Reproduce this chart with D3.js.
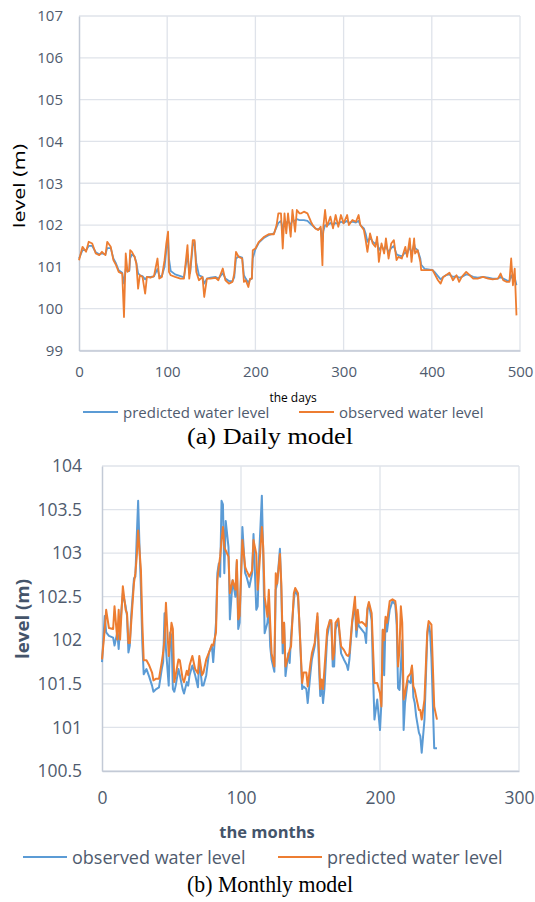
<!DOCTYPE html>
<html>
<head>
<meta charset="utf-8">
<script src="https://cdn.jsdelivr.net/npm/d3@7"></script>
<style>
  body { margin: 0; background: #fff; }
  svg { display: block; }
  .tick text { font-family: "Open Sans", sans-serif; fill: #4f5b6e; }
</style>
</head>
<body>
<script>
// (a) daily model
var days = [0,4,8,11,15,19,23,26,30,32,
  36,39,42,45,49,51,53,55,57,58,
  60,63,65,67,69,72,75,77,81,85,
  89,91,94,97,99,101,102,104,109,115,
  119,123,125,126,129,131,133,136,140,142,
  145,149,155,158,163,166,170,174,176,178,
  181,185,187,189,192,194,196,197,200,204,
  210,215,221,224,226,229,231,233,235,237,
  240,242,245,247,250,252,255,259,263,265,
  268,271,274,276,277,279,281,285,288,291,
  294,297,300,304,306,310,314,317,319,323,
  325,327,330,333,336,338,340,343,346,348,
  351,354,357,360,362,366,370,372,375,377,
  380,381,384,387,388,392,396,401,403,407,
  410,413,416,420,424,428,431,434,439,443,
  447,452,458,464,469,475,478,481,485,488,
  490,492,494,496];
var dailyObserved = [101.16,101.48,101.36,101.6,101.56,101.32,101.28,101.36,101.28,101.6,
  101.48,101.16,101.04,100.88,100.84,99.8,101.32,100.88,100.92,101.4,
  101.36,101.24,101.08,100.48,100.8,100.76,100.36,100.76,100.74,100.78,
  101.2,100.72,100.76,101.16,101.56,101.84,100.88,100.8,100.76,100.72,
  100.72,101.52,100.72,100.88,101.64,101.64,100.88,100.68,100.76,100.28,
  100.72,100.72,100.74,100.68,100.96,100.68,100.6,100.64,100.84,101.36,
  101.24,101.2,100.64,100.68,100.52,100.72,100.72,101.4,101.44,101.6,
  101.72,101.78,101.78,102.0,102.28,102.28,101.44,102.28,101.8,102.28,
  101.72,102.36,101.84,102.36,102.28,102.28,102.32,102.28,102.08,102.0,
  101.92,101.88,101.96,101.04,101.96,102.36,101.96,102.2,101.92,102.24,
  101.96,102.24,102.04,102.24,102.0,102.12,102.08,102.24,102.0,101.88,
  101.64,101.36,101.8,101.56,101.48,101.72,101.12,101.56,101.32,101.68,
  101.2,101.56,101.64,101.16,101.24,101.2,101.48,101.24,101.68,101.12,
  101.68,101.32,101.4,101.12,100.92,100.92,100.92,100.92,100.84,100.68,
  100.6,100.76,100.8,100.86,100.68,100.8,100.64,100.76,100.88,100.8,
  100.72,100.72,100.76,100.72,100.7,100.72,100.84,100.68,100.64,100.64,
  101.2,100.56,100.96,99.84];
var dailyPredicted = [101.2,101.4,101.4,101.5,101.5,101.35,101.3,101.32,101.3,101.45,
  101.45,101.2,101.08,100.92,100.86,100.6,100.95,100.9,100.9,101.2,
  101.3,101.25,101.1,100.85,100.8,100.78,100.7,100.76,100.76,100.77,
  100.95,100.78,100.78,101.0,101.4,101.7,101.2,100.9,100.82,100.78,
  100.75,101.3,100.9,100.85,101.5,101.6,101.1,100.8,100.76,100.6,
  100.72,100.74,100.76,100.72,100.85,100.72,100.66,100.66,100.75,101.2,
  101.25,101.22,100.8,100.72,100.62,100.7,100.72,101.2,101.42,101.58,
  101.7,101.76,101.8,101.95,102.05,102.1,101.9,102.1,102.05,102.1,
  102.0,102.12,102.1,102.14,102.12,102.12,102.12,102.1,102.02,101.98,
  101.92,101.9,101.92,101.6,101.85,102.0,101.98,102.05,102.0,102.05,
  102.02,102.08,102.05,102.1,102.05,102.08,102.06,102.1,102.0,101.92,
  101.8,101.6,101.7,101.6,101.55,101.6,101.4,101.5,101.4,101.5,
  101.35,101.45,101.5,101.3,101.28,101.25,101.35,101.3,101.5,101.3,
  101.55,101.45,101.4,101.2,101.05,100.95,100.94,100.92,100.88,100.78,
  100.7,100.76,100.8,100.82,100.76,100.78,100.74,100.76,100.82,100.8,
  100.76,100.74,100.76,100.74,100.72,100.72,100.76,100.72,100.68,100.66,
  100.8,100.7,100.75,100.56];
var dailyYTicks = [99,100,101,102,103,104,105,106,107];
var dailyXTicks = [0,100,200,300,400,500];

// (b) monthly model
var months = [0,2,3,5,8,9,11,12,13,15,
  17,18,19,20,21,23,24,25,26,27,
  28,29,30,32,34,36,37,39,41,43,
  44,45,46,48,49,50,51,52,53,55,
  56,58,59,61,62,63,65,67,69,70,
  72,73,75,77,79,80,82,83,84,85,
  86,87,88,89,91,92,94,96,97,98,
  99,101,103,104,106,108,109,111,112,113,
  115,116,117,119,120,121,122,124,125,126,
  128,129,130,131,132,134,135,136,138,139,
  141,142,144,145,147,148,150,151,153,155,
  156,157,158,159,160,162,164,165,166,167,
  168,170,171,172,174,176,177,178,180,182,
  183,184,185,187,189,190,191,192,194,195,
  196,198,200,201,202,203,204,205,207,209,
  211,212,213,214,215,216,217,218,220,222,
  223,224,225,226,228,229,230,232,234,235,
  236,237,239,241];
var monthlyObserved = [101.75,102.28,102.09,102.05,102.03,101.94,102.09,101.9,102.16,102.54,
  102.39,102.28,101.86,101.94,102.28,102.71,102.73,103.19,103.6,103.07,
  102.58,101.97,101.61,101.67,101.58,101.48,101.41,101.44,101.46,101.67,
  101.75,102.31,101.9,101.48,102.09,102.05,101.44,101.41,101.48,101.67,
  101.6,101.44,101.39,101.52,101.48,101.6,101.71,101.6,101.46,101.78,
  101.48,101.48,101.6,101.86,101.94,101.75,102.2,102.77,102.88,102.73,
  103.6,103.56,102.77,103.37,103.07,102.24,102.69,102.5,102.9,102.13,
  102.2,103.3,102.77,102.73,102.61,102.77,103.22,102.35,102.39,102.96,
  103.66,102.96,102.08,102.2,102.39,101.93,101.78,101.64,102.58,102.65,
  103.05,102.58,101.85,102.2,101.59,101.85,101.74,102.04,102.46,102.58,
  102.5,102.2,101.44,101.47,101.44,101.28,101.63,101.78,101.93,102.27,
  101.74,101.36,101.51,101.28,101.44,102.04,102.23,102.2,101.7,101.7,
  102.12,102.23,102.04,101.85,101.78,101.72,101.66,101.78,102.2,102.42,
  102.04,102.2,102.16,102.12,102.08,101.97,102.35,102.42,102.23,101.6,
  101.09,101.32,100.97,101.28,102.12,101.6,102.23,102.1,102.35,102.45,
  102.41,102.18,101.45,101.43,101.7,102.0,100.97,101.28,101.54,101.51,
  101.7,101.35,101.28,101.13,100.94,100.9,100.71,101.09,102.05,102.18,
  102.1,101.8,100.76,100.76];
var monthlyPredicted = [101.78,102.13,102.35,102.14,102.13,102.39,102.01,102.35,102.01,102.62,
  102.35,102.31,101.97,101.97,102.2,102.66,102.77,102.96,103.26,103.03,
  102.81,102.2,101.77,101.77,101.71,101.63,101.54,101.56,101.56,101.75,
  101.86,102.01,102.43,101.82,102.01,102.2,102.13,101.52,101.6,101.78,
  101.77,101.56,101.52,101.65,101.6,101.71,101.82,101.67,101.62,101.82,
  101.6,101.63,101.78,101.86,101.95,101.94,102.09,102.69,102.84,102.96,
  103.15,103.3,103.07,103.03,102.96,102.54,102.69,102.58,102.92,102.24,
  102.28,103.15,102.84,102.8,102.73,102.8,103.15,102.99,102.58,102.8,
  103.3,103.07,102.5,102.27,102.58,102.2,101.85,101.7,102.77,102.65,
  102.99,102.65,101.97,102.2,101.7,101.82,101.89,101.93,102.54,102.6,
  102.54,102.2,101.51,101.63,101.63,101.47,101.74,101.85,101.97,102.31,
  101.89,101.44,101.55,101.44,101.66,102.12,102.23,102.23,101.78,101.85,
  102.2,102.25,102.08,101.93,101.89,101.83,101.82,101.85,102.23,102.5,
  102.12,102.35,102.2,102.21,102.18,102.16,102.37,102.44,102.31,101.9,
  101.51,101.51,101.39,101.24,102.12,102.0,102.27,102.2,102.45,102.47,
  102.45,102.3,101.7,101.89,102.39,102.2,101.32,101.39,101.58,101.62,
  101.71,101.47,101.43,101.35,101.2,101.2,101.09,101.32,102.1,102.22,
  102.2,102.18,101.24,101.09];
var monthlyYTicks = [100.5,101,101.5,102,102.5,103,103.5,104];
var monthlyXTicks = [0,100,200,300];

var blue = "#5b9bd5";
var orange = "#ed7d31";
var gridColor = "#dfe3ea";
var axisColor = "#c3cad6";
var textColor = "#4f5b6e";

var svg = d3.select("body").append("svg")
    .attr("width", 535)
    .attr("height", 902);

function drawPanel(p) {
    var x = d3.scaleLinear().domain(p.xDomain).range([p.left, p.right]);
    var y = d3.scaleLinear().domain(p.yDomain).range([p.bottom, p.top]);
    var g = svg.append("g");

    // gridlines
    g.append("g").selectAll("line.h").data(p.yTicks).enter().append("line")
        .attr("x1", p.left).attr("x2", p.right)
        .attr("y1", function (d) { return y(d); }).attr("y2", function (d) { return y(d); })
        .attr("stroke", gridColor).attr("stroke-width", 1.3);
    g.append("g").selectAll("line.v").data(p.xTicks.slice(1)).enter().append("line")
        .attr("x1", function (d) { return x(d); }).attr("x2", function (d) { return x(d); })
        .attr("y1", p.top).attr("y2", p.bottom)
        .attr("stroke", gridColor).attr("stroke-width", 1.3);

    // axes
    var yAxis = g.append("g").attr("transform", "translate(" + p.left + ",0)")
        .call(d3.axisLeft(y).tickValues(p.yTicks).tickSize(0).tickPadding(p.yPad)
            .tickFormat(d3.format("")));
    var xAxis = g.append("g").attr("transform", "translate(0," + p.bottom + ")")
        .call(d3.axisBottom(x).tickValues(p.xTicks).tickSize(0).tickPadding(p.xPad));
    [yAxis, xAxis].forEach(function (a) {
        a.select(".domain").attr("stroke", axisColor).attr("stroke-width", 1.5);
        a.selectAll("text").style("font-size", p.tickFont + "px").attr("fill", textColor);
    });

    // series
    p.series.forEach(function (s) {
        var line = d3.line()
            .x(function (d, i) { return x(p.xs[i]); })
            .y(function (d) { return y(d); });
        g.append("path").datum(s.values)
            .attr("fill", "none")
            .attr("stroke", s.color)
            .attr("stroke-width", p.lineWidth)
            .attr("stroke-linejoin", "round")
            .attr("d", line);
    });

    // y title
    g.append("text")
        .attr("transform", "translate(" + p.yTitleX + "," + p.yTitleY + ") rotate(-90)")
        .attr("text-anchor", "middle")
        .attr("dominant-baseline", "central")
        .style("font-family", "'Open Sans', sans-serif")
        .style("font-size", p.yTitleFont + "px")
        .style("font-weight", p.titleWeight)
        .attr("fill", p.titleColor)
        .attr("textLength", p.yTitleLen)
        .attr("lengthAdjust", "spacingAndGlyphs")
        .text(p.yTitle);

    // x title
    g.append("text")
        .attr("x", p.xTitleX).attr("y", p.xTitleY)
        .attr("text-anchor", "middle")
        .attr("dominant-baseline", "central")
        .style("font-family", "'Open Sans', sans-serif")
        .style("font-size", p.xTitleFont + "px")
        .style("font-weight", p.titleWeight)
        .attr("fill", p.titleColor)
        .text(p.xTitle);

    // legend
    p.legend.forEach(function (l) {
        g.append("line")
            .attr("x1", l.x).attr("x2", l.x + p.legendLine)
            .attr("y1", p.legendY).attr("y2", p.legendY)
            .attr("stroke", l.color).attr("stroke-width", 2);
        g.append("text")
            .attr("x", l.x + p.legendLine + 5).attr("y", p.legendY)
            .attr("dominant-baseline", "central")
            .style("font-family", "'Open Sans', sans-serif")
            .style("font-size", p.legendFont + "px")
            .attr("fill", textColor)
            .text(l.label);
    });

    // caption
    g.append("text")
        .attr("x", 270).attr("y", p.captionY)
        .attr("text-anchor", "middle")
        .style("font-family", "'Liberation Serif', 'Times New Roman', serif")
        .style("font-size", "23px")
        .attr("fill", "#000")
        .attr("textLength", p.captionLen)
        .attr("lengthAdjust", "spacingAndGlyphs")
        .text(p.caption);
}

drawPanel({
    xDomain: [0, 500], yDomain: [99, 107],
    left: 79, right: 520, top: 16, bottom: 350.5,
    xs: days, xTicks: dailyXTicks, yTicks: dailyYTicks,
    yPad: 16, xPad: 16, tickFont: 15, lineWidth: 1.8,
    series: [
        { values: dailyPredicted, color: blue },
        { values: dailyObserved, color: orange }
    ],
    yTitle: "level  (m)", yTitleX: 18, yTitleY: 186, yTitleFont: 17, yTitleLen: 84,
    xTitle: "the days", xTitleX: 293, xTitleY: 397, xTitleFont: 12,
    titleWeight: "normal", titleColor: "#000",
    legendY: 412, legendLine: 35, legendFont: 15,
    legend: [
        { x: 83, color: blue, label: "predicted water level" },
        { x: 299, color: orange, label: "observed water level" }
    ],
    caption: "(a) Daily model", captionY: 444, captionLen: 166
});

drawPanel({
    xDomain: [0, 300], yDomain: [100.5, 104],
    left: 102, right: 519, top: 466, bottom: 771,
    xs: months, xTicks: monthlyXTicks, yTicks: monthlyYTicks,
    yPad: 20, xPad: 21, tickFont: 17.5, lineWidth: 2,
    series: [
        { values: monthlyObserved, color: blue },
        { values: monthlyPredicted, color: orange }
    ],
    yTitle: "level (m)", yTitleX: 22, yTitleY: 619, yTitleFont: 18, yTitleLen: 80,
    xTitle: "the months", xTitleX: 267, xTitleY: 831, xTitleFont: 16.5,
    titleWeight: "bold", titleColor: "#44546a",
    legendY: 857, legendLine: 44, legendFont: 18,
    legend: [
        { x: 23, color: blue, label: "observed water level" },
        { x: 278, color: orange, label: "predicted water level" }
    ],
    caption: "(b) Monthly model", captionY: 892, captionLen: 166
});
</script>
</body>
</html>
